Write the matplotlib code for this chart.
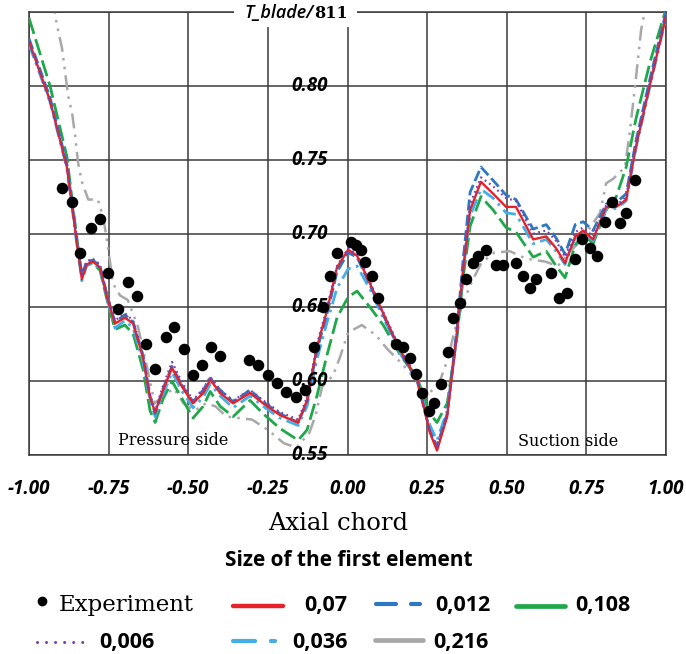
import matplotlib
matplotlib.use("Agg")
import matplotlib.pyplot as plt
from matplotlib.lines import Line2D
from matplotlib.patches import Rectangle

plt.rcParams['axes.unicode_minus'] = False

# ---------------- data ----------------
x_exp = [-0.896, -0.865, -0.840, -0.805, -0.777, -0.752, -0.720, -0.689, -0.660, -0.632,
         -0.604, -0.570, -0.545, -0.513, -0.485, -0.457, -0.429, -0.400, -0.309, -0.281,
         -0.250, -0.221, -0.193, -0.162, -0.133, -0.105, -0.077, -0.055, -0.033, 0.011,
         0.027, 0.042, 0.055, 0.077, 0.096, 0.152, 0.174, 0.196, 0.215, 0.234,
         0.256, 0.271, 0.294, 0.316, 0.331, 0.353, 0.372, 0.394, 0.410, 0.435,
         0.466, 0.488, 0.529, 0.551, 0.573, 0.592, 0.639, 0.664, 0.689, 0.714,
         0.736, 0.761, 0.783, 0.808, 0.830, 0.855, 0.874, 0.902]
y_exp = [0.731, 0.721, 0.687, 0.704, 0.710, 0.673, 0.649, 0.667, 0.658, 0.625,
         0.608, 0.630, 0.637, 0.622, 0.604, 0.611, 0.623, 0.617, 0.614, 0.611,
         0.604, 0.599, 0.593, 0.589, 0.594, 0.623, 0.650, 0.671, 0.687, 0.694,
         0.692, 0.689, 0.681, 0.671, 0.656, 0.625, 0.623, 0.616, 0.605, 0.592,
         0.580, 0.585, 0.598, 0.620, 0.643, 0.653, 0.669, 0.680, 0.685, 0.689,
         0.679, 0.679, 0.680, 0.671, 0.663, 0.669, 0.673, 0.656, 0.660, 0.683,
         0.696, 0.690, 0.685, 0.708, 0.721, 0.707, 0.714, 0.736]

x_sim = [-1.000, -0.934, -0.881, -0.862, -0.850, -0.834, -0.819, -0.800, -0.777, -0.755,
         -0.730, -0.699, -0.673, -0.642, -0.620, -0.604, -0.579, -0.551, -0.519, -0.485,
         -0.453, -0.431, -0.400, -0.359, -0.306, -0.265, -0.212, -0.155, -0.127, -0.096,
         -0.064, -0.033, 0.002, 0.030, 0.071, 0.112, 0.165, 0.219, 0.259, 0.281,
         0.313, 0.344, 0.363, 0.385, 0.419, 0.457, 0.498, 0.529, 0.583, 0.624,
         0.655, 0.683, 0.715, 0.740, 0.771, 0.812, 0.844, 0.875, 0.906, 0.951, 1.000]

y_007 = [0.830, 0.790, 0.745, 0.714, 0.694, 0.669, 0.679, 0.681, 0.677, 0.657,
         0.639, 0.643, 0.639, 0.616, 0.589, 0.579, 0.594, 0.609, 0.596, 0.585,
         0.592, 0.601, 0.592, 0.585, 0.592, 0.585, 0.577, 0.572, 0.587, 0.623,
         0.648, 0.677, 0.689, 0.685, 0.666, 0.646, 0.621, 0.601, 0.565, 0.553,
         0.576, 0.633, 0.675, 0.716, 0.735, 0.727, 0.718, 0.718, 0.696, 0.698,
         0.690, 0.680, 0.698, 0.702, 0.696, 0.718, 0.718, 0.723, 0.759, 0.802, 0.847]

y_0006 = [0.830, 0.790, 0.746, 0.716, 0.696, 0.672, 0.681, 0.683, 0.679, 0.659,
          0.641, 0.646, 0.641, 0.618, 0.591, 0.580, 0.597, 0.613, 0.599, 0.587,
          0.595, 0.603, 0.594, 0.587, 0.594, 0.587, 0.579, 0.574, 0.589, 0.625,
          0.650, 0.678, 0.690, 0.686, 0.667, 0.647, 0.622, 0.602, 0.566, 0.555,
          0.578, 0.635, 0.677, 0.720, 0.738, 0.732, 0.724, 0.722, 0.700, 0.702,
          0.695, 0.684, 0.701, 0.704, 0.698, 0.719, 0.719, 0.725, 0.761, 0.804, 0.848]

y_0012 = [0.832, 0.792, 0.747, 0.716, 0.696, 0.672, 0.681, 0.682, 0.678, 0.658,
          0.640, 0.645, 0.640, 0.617, 0.590, 0.578, 0.595, 0.610, 0.597, 0.586,
          0.594, 0.602, 0.594, 0.586, 0.594, 0.586, 0.578, 0.572, 0.586, 0.621,
          0.646, 0.674, 0.687, 0.684, 0.665, 0.645, 0.620, 0.600, 0.566, 0.556,
          0.578, 0.636, 0.682, 0.728, 0.745, 0.736, 0.726, 0.723, 0.703, 0.706,
          0.697, 0.686, 0.706, 0.708, 0.702, 0.720, 0.721, 0.727, 0.763, 0.806, 0.850]

y_0036 = [0.828, 0.789, 0.744, 0.713, 0.693, 0.668, 0.678, 0.680, 0.676, 0.656,
          0.636, 0.641, 0.636, 0.613, 0.587, 0.576, 0.591, 0.606, 0.593, 0.582,
          0.589, 0.598, 0.590, 0.582, 0.590, 0.583, 0.575, 0.570, 0.583, 0.615,
          0.640, 0.663, 0.676, 0.678, 0.662, 0.643, 0.619, 0.600, 0.570, 0.560,
          0.580, 0.633, 0.675, 0.712, 0.730, 0.724, 0.714, 0.713, 0.693, 0.696,
          0.688, 0.679, 0.697, 0.701, 0.695, 0.716, 0.717, 0.722, 0.758, 0.801, 0.846]

y_0108 = [0.846, 0.800, 0.752, 0.718, 0.697, 0.671, 0.679, 0.680, 0.675, 0.655,
          0.635, 0.638, 0.632, 0.608, 0.580, 0.572, 0.588, 0.600, 0.588, 0.575,
          0.583, 0.593, 0.583, 0.576, 0.587, 0.578, 0.568, 0.560, 0.567, 0.590,
          0.618, 0.643, 0.657, 0.661, 0.650, 0.638, 0.618, 0.602, 0.578, 0.572,
          0.585, 0.630, 0.670, 0.705, 0.725, 0.716, 0.704, 0.701, 0.684, 0.688,
          0.678, 0.670, 0.692, 0.700, 0.693, 0.716, 0.725, 0.745, 0.778, 0.817, 0.852]

x_0216 = [-0.935, -0.912, -0.896, -0.877, -0.865, -0.855, -0.846, -0.834, -0.814, -0.784,
          -0.767, -0.755, -0.736, -0.714, -0.690, -0.658, -0.630, -0.605, -0.580, -0.545,
          -0.515, -0.480, -0.445, -0.415, -0.380, -0.340, -0.300, -0.250, -0.200, -0.160,
          -0.120, -0.100, -0.080, -0.045, -0.024, 0.002, 0.045, 0.090, 0.124, 0.170,
          0.220, 0.255, 0.285, 0.315, 0.345, 0.385, 0.420, 0.460, 0.510, 0.560,
          0.620, 0.660, 0.700, 0.740, 0.793, 0.812, 0.834, 0.871, 0.887, 0.906,
          0.922, 0.940]
y_0216 = [0.870, 0.841, 0.825, 0.793, 0.782, 0.766, 0.748, 0.735, 0.723, 0.723,
          0.711, 0.695, 0.666, 0.658, 0.655, 0.637, 0.610, 0.585, 0.590, 0.595,
          0.585, 0.580, 0.585, 0.583, 0.576, 0.575, 0.574, 0.567, 0.558, 0.555,
          0.565, 0.577, 0.596, 0.604, 0.616, 0.633, 0.638, 0.631, 0.622, 0.612,
          0.600, 0.592, 0.597, 0.615, 0.642, 0.665, 0.680, 0.687, 0.688, 0.683,
          0.681, 0.678, 0.688, 0.697, 0.714, 0.734, 0.737, 0.745, 0.770, 0.806,
          0.838, 0.858]

x_ticks = [-1.00, -0.75, -0.50, -0.25, 0.00, 0.25, 0.50, 0.75, 1.00]
y_ticks = [0.55, 0.60, 0.65, 0.70, 0.75, 0.80, 0.85]
y_labels = ['0.55', '0.60', '0.65', '0.70', '0.75', '0.80']

C_RED = '#e5222a'
C_BLUE = '#2e78c2'
C_GREEN = '#1fa84a'
C_PURPLE = '#7a3fb0'
C_LBLUE = '#45aee6'
C_GREY = '#a8a8a8'
C_GRID = '#3a3a3a'

W, H = 686, 654
TICK_FONT = dict(family=['Open Sans', 'DejaVu Sans'], style='italic', weight='bold', size=13.5)
NUM_FONT = dict(family=['Open Sans', 'DejaVu Sans'], weight='bold', size=15.5)


def fx(px):
    return px / W


def fy(py):
    return 1 - py / H


fig = plt.figure(figsize=(W / 100, H / 100), dpi=100)
ax = fig.add_axes([fx(29), fy(455), 637 / W, 443 / H])
ax.set_xlim(-1, 1)
ax.set_ylim(0.55, 0.85)

ax.set_xticks(x_ticks)
ax.set_xticklabels([f"{v:.2f}" for v in x_ticks], **TICK_FONT)
ax.set_yticks(y_ticks)
ax.set_yticklabels([])
ax.tick_params(length=0, pad=17)
ax.tick_params(axis='x', colors='black')
ax.grid(True, color=C_GRID, lw=1.1)
ax.set_axisbelow(True)
for s in ax.spines.values():
    s.set_color(C_GRID)
    s.set_linewidth(1.1)

# y labels sit inside the plot, just left of the x = 0 line
for v, lab in zip(y_ticks, y_labels):
    ax.text(-0.06, v, lab, ha='right', va='center', clip_on=False, zorder=6, **TICK_FONT)

# simulated temperature curves
ax.plot(x_0216, y_0216, color=C_GREY, lw=1.8, dashes=(6, 2.5, 1, 2.5, 1, 2.5), zorder=2)
ax.plot(x_sim, y_0108, color=C_GREEN, lw=2.0, dashes=(6, 2), zorder=3)
ax.plot(x_sim, y_0036, color=C_LBLUE, lw=2.0, dashes=(5, 2, 1, 2), zorder=3)
ax.plot(x_sim, y_0012, color=C_BLUE, lw=2.0, dashes=(4, 1.5), zorder=3)
ax.plot(x_sim, y_007, color=C_RED, lw=1.7, zorder=4)
ax.plot(x_sim, y_0006, color=C_PURPLE, lw=1.6, dashes=(0.8, 1.6), zorder=4)

# measured values
ax.plot(x_exp, y_exp, 'o', color='black', ms=7.3, zorder=5)

ax.text(-0.72, 0.557, 'Pressure side', family='DejaVu Serif', size=11.5, ha='left', va='baseline')
ax.text(0.535, 0.556, 'Suction side', family='DejaVu Serif', size=11.5, ha='left', va='baseline')

# quantity label over the top spine
fig.add_artist(Rectangle((fx(234), fy(27)), (357 - 234) / W, 27 / H,
                         transform=fig.transFigure, facecolor='white', edgecolor='none', zorder=3))
t811 = fig.text(fx(348), fy(13), '811', ha='right', va='center',
                family='DejaVu Serif', weight='bold', size=11.5, zorder=4)
renderer = fig.canvas.get_renderer()
bb = t811.get_window_extent(renderer)
fig.text(bb.x0 / W - 1 / W, fy(13), 'T_blade/', ha='right', va='center',
         family=['Open Sans', 'DejaVu Sans'], style='italic', weight='semibold', size=13, zorder=4)

fig.text(fx(338), fy(524), 'Axial chord', ha='center', va='center', family='DejaVu Serif', size=17.5)
fig.text(fx(349), fy(560), 'Size of the first element', ha='center', va='center',
         family=['Open Sans', 'DejaVu Sans'], weight='bold', size=15)

# legend
def key_line(x0, x1, y, **kw):
    fig.add_artist(Line2D([fx(x0), fx(x1)], [fy(y), fy(y)], transform=fig.transFigure, **kw))


def key_text(x, y, s, **kw):
    fig.text(fx(x), fy(y), s, ha='left', va='baseline', **kw)


fig.add_artist(Line2D([fx(42)], [fy(601)], transform=fig.transFigure, marker='o', color='black',
                      ms=6, lw=0))
key_text(59, 611, 'Experiment', family='DejaVu Serif', size=16.5)

key_line(233, 283, 606, color=C_RED, lw=3.2, solid_capstyle='round')
key_text(304, 611, '0,07', **NUM_FONT)

key_line(376, 420, 604, color=C_BLUE, lw=3.0, dashes=(4.8, 3.6, 2.2, 3.6), dash_capstyle='round')
key_text(435, 611, '0,012', **NUM_FONT)

key_line(516, 565, 606, color=C_GREEN, lw=3.4, solid_capstyle='round')
key_text(575, 611, '0,108', **NUM_FONT)

key_line(37, 84, 642, color=C_PURPLE, lw=2.2, dashes=(0.01, 2.95), dash_capstyle='round')
key_text(99, 648, '0,006', **NUM_FONT)

key_line(233, 276, 641, color=C_LBLUE, lw=3.0, dashes=(5.3, 3.8, 1.0, 3.8), dash_capstyle='round')
key_text(292, 648, '0,036', **NUM_FONT)

key_line(375, 423, 640, color=C_GREY, lw=3.4, solid_capstyle='round')
key_text(433, 648, '0,216', **NUM_FONT)

fig.savefig('out.png', dpi=100)
